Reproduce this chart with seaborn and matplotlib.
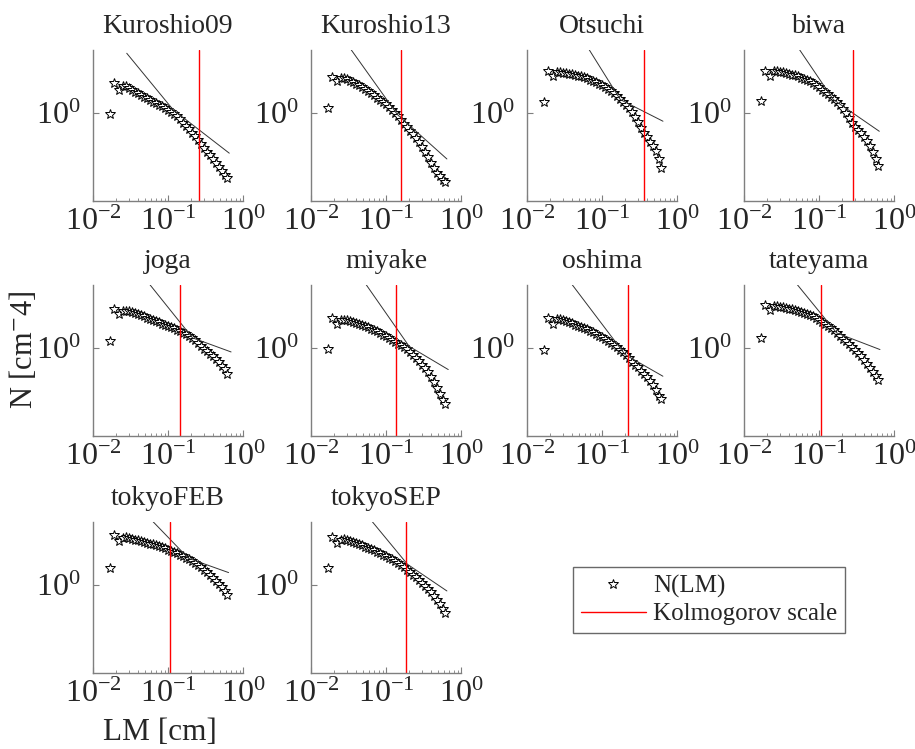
import numpy as np
import pandas as pd
import matplotlib
matplotlib.use("Agg")
import matplotlib.pyplot as plt
from matplotlib.lines import Line2D
from matplotlib.ticker import LogLocator, LogFormatterMathtext, NullLocator, NullFormatter
import seaborn as sns

# ---- data (log10 of LM [cm] and of N [cm^-4]) ----
sites = ["Kuroshio09", "Kuroshio13", "Otsuchi", "biwa",
         "joga", "miyake", "oshima", "tateyama",
         "tokyoFEB", "tokyoSEP"]

log_lm = [-1.77, -1.72, -1.65, -1.60, -1.56, -1.52, -1.48, -1.44, -1.40, -1.36,
          -1.32, -1.28, -1.24, -1.20, -1.16, -1.12, -1.08, -1.04, -1.00, -0.96,
          -0.92, -0.88, -0.84, -0.80, -0.76, -0.72, -0.68, -0.64, -0.60, -0.56,
          -0.52, -0.48, -0.44, -0.40, -0.36, -0.32, -0.28, -0.24, -0.21]

log_n_kuroshio09 = [-0.010, 0.236, 0.180, 0.210, 0.215, 0.200, 0.185, 0.170, 0.155, 0.140,
                    0.127, 0.115, 0.103, 0.090, 0.078, 0.066, 0.054, 0.040, 0.025, 0.010,
                    -0.005, -0.028, -0.052, -0.077, -0.103, -0.130, -0.158, -0.187, -0.217, -0.247,
                    -0.277, -0.307, -0.337, -0.367, -0.397, -0.428, -0.458, -0.490, -0.520]
log_n_kuroshio13 = [0.040, 0.284, 0.250, 0.275, 0.278, 0.268, 0.257, 0.245, 0.232, 0.218,
                    0.204, 0.189, 0.173, 0.157, 0.140, 0.122, 0.104, 0.086, 0.067, 0.047,
                    0.026, 0.003, -0.025, -0.055, -0.085, -0.113, -0.140, -0.168, -0.200, -0.235,
                    -0.270, -0.310, -0.350, -0.395, -0.440, -0.475, -0.505, -0.530, -0.550]
log_n_otsuchi = [0.085, 0.332, 0.290, 0.325, 0.324, 0.321, 0.317, 0.312, 0.307, 0.302,
                 0.297, 0.291, 0.283, 0.275, 0.265, 0.254, 0.243, 0.231, 0.218, 0.204,
                 0.189, 0.172, 0.157, 0.134, 0.108, 0.085, 0.062, 0.037, 0.007, -0.030,
                 -0.075, -0.120, -0.160, -0.195, -0.228, -0.262, -0.305, -0.370, -0.438]
log_n_biwa = [0.093, 0.332, 0.292, 0.330, 0.332, 0.328, 0.322, 0.316, 0.310, 0.304,
              0.298, 0.290, 0.281, 0.271, 0.261, 0.250, 0.235, 0.219, 0.202, 0.185,
              0.167, 0.150, 0.130, 0.109, 0.088, 0.066, 0.032, -0.003, -0.040, -0.078,
              -0.108, -0.135, -0.163, -0.192, -0.225, -0.262, -0.310, -0.365, -0.419]
log_n_joga = [0.053, 0.310, 0.270, 0.295, 0.297, 0.290, 0.282, 0.274, 0.266, 0.258,
              0.250, 0.241, 0.232, 0.223, 0.213, 0.203, 0.194, 0.184, 0.175, 0.166,
              0.156, 0.146, 0.134, 0.121, 0.107, 0.093, 0.078, 0.062, 0.040, 0.018,
              -0.005, -0.027, -0.047, -0.068, -0.090, -0.113, -0.140, -0.170, -0.205]
log_n_miyake = [-0.005, 0.239, 0.190, 0.222, 0.225, 0.218, 0.211, 0.204, 0.197, 0.190,
                0.182, 0.173, 0.163, 0.153, 0.143, 0.133, 0.120, 0.106, 0.092, 0.078,
                0.063, 0.049, 0.035, 0.021, 0.006, -0.010, -0.030, -0.053, -0.078, -0.104,
                -0.132, -0.160, -0.190, -0.228, -0.270, -0.322, -0.370, -0.410, -0.446]
log_n_oshima = [-0.013, 0.239, 0.190, 0.228, 0.228, 0.220, 0.212, 0.204, 0.195, 0.186,
                0.177, 0.167, 0.157, 0.147, 0.137, 0.124, 0.111, 0.098, 0.085, 0.073,
                0.058, 0.040, 0.022, 0.005, -0.013, -0.036, -0.060, -0.084, -0.108, -0.132,
                -0.155, -0.180, -0.207, -0.235, -0.263, -0.298, -0.338, -0.380, -0.403]
log_n_tateyama = [0.080, 0.345, 0.305, 0.335, 0.332, 0.327, 0.322, 0.317, 0.312, 0.307,
                  0.301, 0.295, 0.288, 0.281, 0.273, 0.265, 0.250, 0.235, 0.219, 0.203,
                  0.188, 0.176, 0.159, 0.140, 0.118, 0.093, 0.073, 0.052, 0.031, 0.009,
                  -0.013, -0.037, -0.065, -0.099, -0.128, -0.157, -0.188, -0.222, -0.252]
log_n_tokyofeb = [0.133, 0.398, 0.350, 0.375, 0.377, 0.372, 0.366, 0.360, 0.355, 0.349,
                  0.343, 0.336, 0.329, 0.322, 0.315, 0.307, 0.299, 0.290, 0.280, 0.271,
                  0.262, 0.251, 0.239, 0.227, 0.215, 0.203, 0.190, 0.175, 0.158, 0.140,
                  0.122, 0.102, 0.081, 0.058, 0.035, 0.010, -0.018, -0.050, -0.080]
log_n_tokyosep = [0.133, 0.377, 0.332, 0.360, 0.362, 0.355, 0.347, 0.339, 0.331, 0.323,
                  0.314, 0.305, 0.295, 0.285, 0.274, 0.263, 0.252, 0.240, 0.228, 0.215,
                  0.202, 0.192, 0.175, 0.157, 0.139, 0.121, 0.102, 0.082, 0.061, 0.039,
                  0.017, -0.005, -0.030, -0.056, -0.085, -0.118, -0.153, -0.190, -0.225]

log_n = [log_n_kuroshio09, log_n_kuroshio13, log_n_otsuchi, log_n_biwa,
         log_n_joga, log_n_miyake, log_n_oshima, log_n_tateyama,
         log_n_tokyofeb, log_n_tokyosep]

# power-law fits: start, knee, end (log10 LM, log10 N)
fit_log_lm = [[-1.550, -0.930, -0.183], [-1.473, -0.848, -0.188],
              [-1.178, -0.756, -0.187], [-1.267, -0.809, -0.196],
              [-1.250, -0.673, -0.159], [-1.272, -0.692, -0.170],
              [-1.406, -0.692, -0.188], [-1.298, -0.764, -0.187],
              [-1.210, -0.728, -0.192], [-1.192, -0.714, -0.188]]
fit_log_n = [[0.474, 0.024, -0.320], [0.509, -0.013, -0.366],
             [0.509, 0.106, -0.066], [0.509, 0.106, -0.146],
             [0.509, 0.080, -0.032], [0.509, 0.013, -0.172],
             [0.509, -0.053, -0.225], [0.509, 0.119, -0.013],
             [0.509, 0.212, 0.098], [0.509, 0.164, -0.048]]

# Kolmogorov scale [cm]
kolmogorov = [0.259, 0.157, 0.360, 0.287, 0.143, 0.137, 0.225, 0.106, 0.106, 0.185]

# ---- style ----
sns.set_theme(style="white")
plt.rcParams["font.family"] = ["Liberation Serif", "DejaVu Serif"]
plt.rcParams["mathtext.fontset"] = "stix"
plt.rcParams["axes.unicode_minus"] = False

W, H = 915, 749
fig = plt.figure(figsize=(W / 100, H / 100), dpi=100)

col_left = [93, 311, 527, 744]
row_bottom = [201, 436, 673]
ax_w, ax_h = 150, 151
spine_gray = "#7f7f7f"

for i, site in enumerate(sites):
    r, c = divmod(i, 4)
    ax = fig.add_axes([col_left[c] / W, 1 - row_bottom[r] / H, ax_w / W, ax_h / H])
    ax.set_xscale("log")
    ax.set_yscale("log")
    ax.set_xlim(1e-2, 1e0)
    ax.set_ylim(10 ** -0.7, 10 ** 0.5)

    lm = np.power(10.0, log_lm)
    n = np.power(10.0, log_n[i])
    df = pd.DataFrame({"LM": lm, "N": n})

    # connecting curve through the binned values
    sns.lineplot(data=df.iloc[1:], x="LM", y="N", ax=ax, color="black",
                 lw=0.6, estimator=None, sort=False)
    # star markers
    sns.lineplot(data=df, x="LM", y="N", ax=ax, linestyle="none", marker="*",
                 markersize=7.5, markerfacecolor="white", markeredgecolor="black",
                 markeredgewidth=0.7, estimator=None, sort=False)

    # power-law fit
    ax.plot(np.power(10.0, fit_log_lm[i]), np.power(10.0, fit_log_n[i]),
            color="#333333", lw=0.7)
    # Kolmogorov scale
    ax.axvline(kolmogorov[i], color="red", lw=1.0)

    ax.set_title(site, fontsize=20, pad=12)
    ax.set_xlabel("")
    ax.set_ylabel("")

    for s in ["top", "right"]:
        ax.spines[s].set_visible(False)
    for s in ["left", "bottom"]:
        ax.spines[s].set_color(spine_gray)
        ax.spines[s].set_linewidth(1.0)

    ax.xaxis.set_major_locator(LogLocator(base=10, numticks=5))
    ax.xaxis.set_major_formatter(LogFormatterMathtext())
    ax.xaxis.set_minor_locator(LogLocator(base=10, subs=np.arange(2, 10), numticks=20))
    ax.xaxis.set_minor_formatter(NullFormatter())
    ax.yaxis.set_major_locator(LogLocator(base=10, numticks=5))
    ax.yaxis.set_major_formatter(LogFormatterMathtext())
    ax.yaxis.set_minor_locator(NullLocator())
    ax.tick_params(which="both", direction="in", color=spine_gray, labelsize=23)
    ax.tick_params(which="major", length=4, width=0.8)
    ax.tick_params(axis="x", which="major", pad=5)
    ax.tick_params(axis="y", which="major", pad=9)
    ax.tick_params(which="minor", length=2, width=0.6)
    ax.tick_params(axis="x", which="both", bottom=True)
    ax.tick_params(axis="y", which="both", left=True)
    ax.grid(False)

fig.text(0.026, 0.533, "N [cm$^{-}$4]", rotation=90, ha="center", va="center",
         fontsize=22)
fig.text(160 / W, 1 - 733 / H, "LM [cm]", ha="center", va="center", fontsize=22.5)

handles = [
    Line2D([], [], linestyle="none", marker="*", markersize=7,
           markerfacecolor="white", markeredgecolor="black", markeredgewidth=0.7),
    Line2D([], [], color="red", lw=1.0),
]
leg = fig.legend(handles, ["N(LM)", "Kolmogorov scale"], loc="center",
                 bbox_to_anchor=(709 / W, 1 - 600 / H), fontsize=18,
                 frameon=True, fancybox=False, handlelength=2.6,
                 borderpad=0.3, labelspacing=0.2, handletextpad=0.3)
leg.get_frame().set_edgecolor("#444444")
leg.get_frame().set_linewidth(1.0)

fig.savefig("out.png", dpi=100, facecolor="white")
